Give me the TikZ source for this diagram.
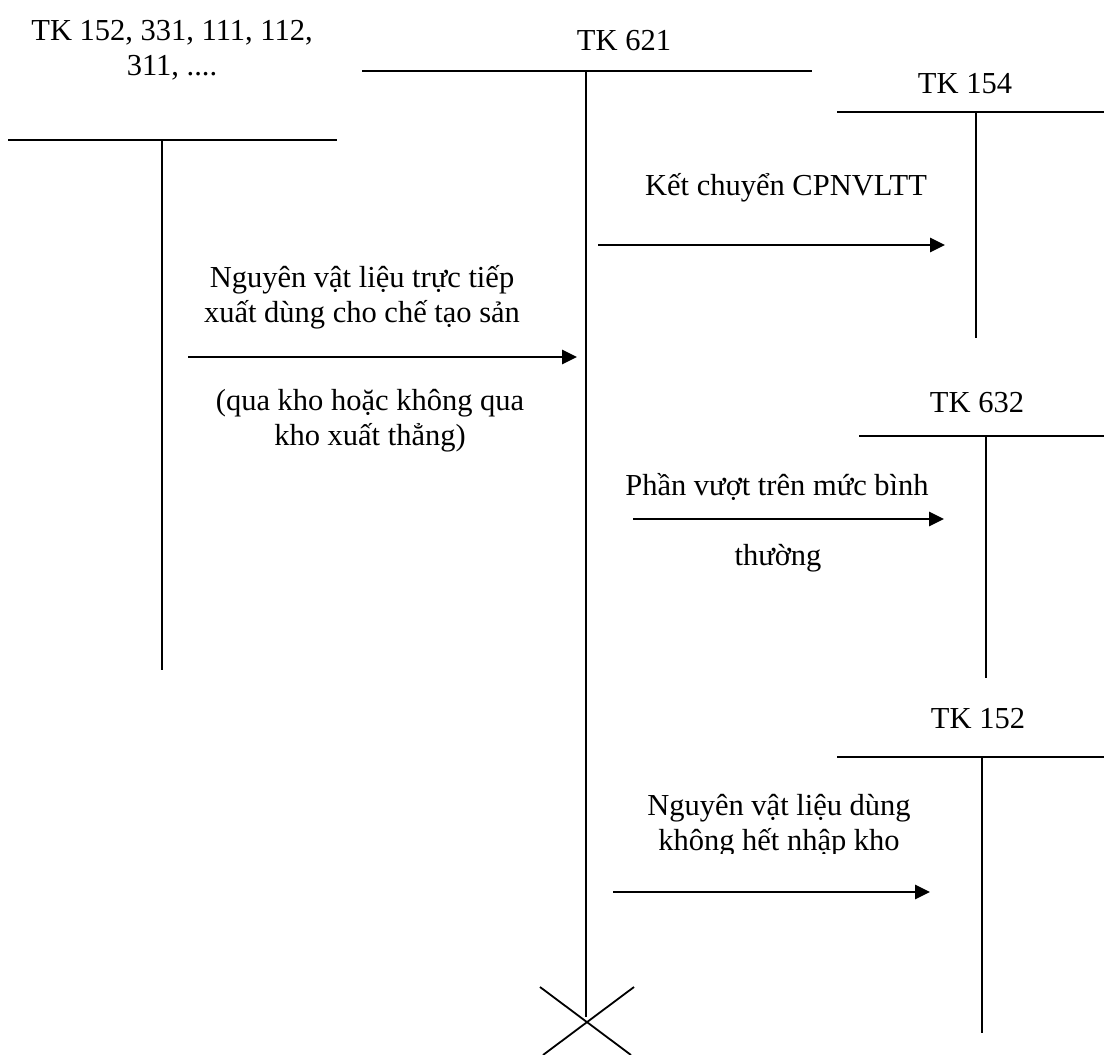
\documentclass[tikz,border=0pt]{standalone}
\usepackage{fontspec}
\setmainfont{Liberation Serif}
\usetikzlibrary{positioning, arrows.meta, calc}

\tikzset{
  tline/.style={line width=1.8pt},
  thickseg/.style={line width=2.8pt},
  flow/.style={-{Triangle[length=15pt, width=14pt]}, line width=2.8pt},
  lbl/.style={anchor=base, inner sep=0pt, align=center, font=\fontsize{30.5}{35}\selectfont}
}

\begin{document}
\begin{tikzpicture}[x=1pt, y=-1pt]
      \useasboundingbox (0,0) rectangle (1104,1055);

      % Left account
      \node[lbl] (tkl) at (172,75) {TK 152, 331, 111, 112,\\311, ....};
      \coordinate (tkl-l) at (8,140);
      \coordinate (tkl-r) at (337,140);
      \coordinate (tkl-t) at (162,140);
      \coordinate (tkl-b) at (162,670);
      \draw[tline] (tkl-l) -- (tkl-r);
      \draw[tline] (tkl-t) -- (tkl-b);

      % TK 621
      \node[lbl] (tk621) at (624,50) {TK 621};
      \coordinate (tk621-l) at (362,71);
      \coordinate (tk621-r) at (812,71);
      \coordinate (tk621-t) at (586,71);
      \coordinate (tk621-b) at (586,1017);
      \draw[tline] (tk621-l) -- (tk621-r);
      \draw[tline] (tk621-t) -- (tk621-b);

      % Closing cross
      \coordinate (cross) at (587,1022);
      \draw[tline] ($(cross)+(-47,-35)$) -- ($(cross)+(44,33)$);
      \draw[tline] ($(cross)+(47,-35)$) -- ($(cross)+(-44,33)$);

      % TK 154
      \node[lbl] (tk154) at (965,93) {TK 154};
      \coordinate (tk154-l) at (837,112);
      \coordinate (tk154-r) at (1104,112);
      \coordinate (tk154-t) at (976,112);
      \coordinate (tk154-b) at (976,338);
      \draw[tline] (tk154-l) -- (tk154-r);
      \draw[tline] (tk154-t) -- (tk154-b);

      % TK 632
      \node[lbl] (tk632) at (977,412) {TK 632};
      \coordinate (tk632-l) at (859,436);
      \coordinate (tk632-r) at (1104,436);
      \coordinate (tk632-t) at (986,436);
      \coordinate (tk632-b) at (986,678);
      \draw[tline] (tk632-l) -- (tk632-r);
      \draw[tline] (tk632-t) -- (tk632-b);

      % TK 152
      \node[lbl] (tk152) at (978,728) {TK 152};
      \coordinate (tk152-l) at (837,757);
      \coordinate (tk152-r) at (1104,757);
      \coordinate (tk152-t) at (982,757);
      \coordinate (tk152-b) at (982,1033);
      \draw[tline] (tk152-l) -- (tk152-r);
      \draw[thickseg] (tk152-l) -- ++(46,0);
      \draw[thickseg] (tk152-r) -- ++(-30,0);
      \draw[tline] (tk152-t) -- (tk152-b);

      % Arrows
      \coordinate (xuat-s) at (188,357);
      \coordinate (xuat-e) at (577,357);
      \draw[flow] (xuat-s) -- (xuat-e);
      \node[lbl] (xuat-a) at (362,322) {Nguyên vật liệu trực tiếp\\xuất dùng cho chế tạo sản};
      \node[lbl] (xuat-b) at (370,445) {(qua kho hoặc không qua\\kho xuất thẳng)};

      \coordinate (kc-s) at (598,245);
      \coordinate (kc-e) at (945,245);
      \draw[flow] (kc-s) -- (kc-e);
      \node[lbl] (kc) at (786,195) {Kết chuyển CPNVLTT};

      \coordinate (vuot-s) at (633,519);
      \coordinate (vuot-e) at (944,519);
      \draw[flow] (vuot-s) -- (vuot-e);
      \node[lbl] (vuot-a) at (777,495) {Phần vượt trên mức bình};
      \node[lbl] (vuot-b) at (778,565) {thường};

      \coordinate (nhap-s) at (613,892);
      \coordinate (nhap-e) at (930,892);
      \draw[flow] (nhap-s) -- (nhap-e);
      \begin{scope}
        \clip (600,770) rectangle (960,853);
        \node[lbl] (nhap) at (779,850) {Nguyên vật liệu dùng\\không hết nhập kho};
      \end{scope}
\end{tikzpicture}
\end{document}
